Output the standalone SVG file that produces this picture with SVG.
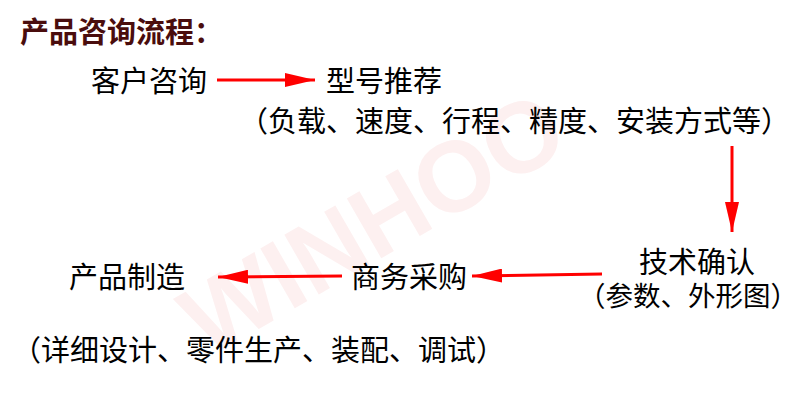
<svg xmlns="http://www.w3.org/2000/svg" width="800" height="400" viewBox="0 0 800 400">
<defs>
<style>
.t{font-family:"Noto Sans CJK SC","Noto Sans CJK TC",sans-serif;font-size:29px;fill:#000}
.s{font-size:27.5px}
.title{font-family:"Noto Sans CJK SC",sans-serif;font-size:29px;font-weight:bold;fill:#4a0d0d}
.wm{font-family:"Liberation Sans",Arial,sans-serif;font-size:100px;font-weight:bold;fill:#fdf0f0}
.c{stroke:#ff0000;stroke-width:3;fill:none}
</style>
<marker id="ah" viewBox="0 0 30 14" refX="30" refY="7" markerWidth="30" markerHeight="14" markerUnits="userSpaceOnUse" orient="auto">
<path d="M0,0 L30,7 L0,14 Z" fill="#ff0000"/>
</marker>
</defs>
<rect width="800" height="400" fill="#fff"/>
<g id="watermark" transform="translate(372,222) rotate(-30)">
<text class="wm" x="0" y="36" text-anchor="middle">WINHOO</text>
</g>
<text class="title" x="20" y="43">产品咨询流程：</text>
<g id="connectors">
<line class="c" x1="217" y1="80" x2="315" y2="80" marker-end="url(#ah)"/>
<line class="c" x1="732" y1="146" x2="732" y2="232" marker-end="url(#ah)"/>
<line class="c" x1="602" y1="274" x2="472" y2="276" marker-end="url(#ah)"/>
<line class="c" x1="342" y1="276" x2="218" y2="277" marker-end="url(#ah)"/>
</g>
<g id="n1"><text class="t" x="91" y="92">客户咨询</text></g>
<g id="n2"><text class="t" x="326" y="92">型号推荐</text>
<text class="t" x="239" y="132">（负载、速度、行程、精度、安装方式等）</text></g>
<g id="n3"><text class="t" x="639" y="273">技术确认</text>
<text class="t s" x="578" y="306">（参数、外形图）</text></g>
<g id="n4"><text class="t" x="351" y="288">商务采购</text></g>
<g id="n5"><text class="t" x="69" y="288">产品制造</text>
<text class="t" x="12" y="361">（详细设计、零件生产、装配、调试）</text></g>
</svg>
